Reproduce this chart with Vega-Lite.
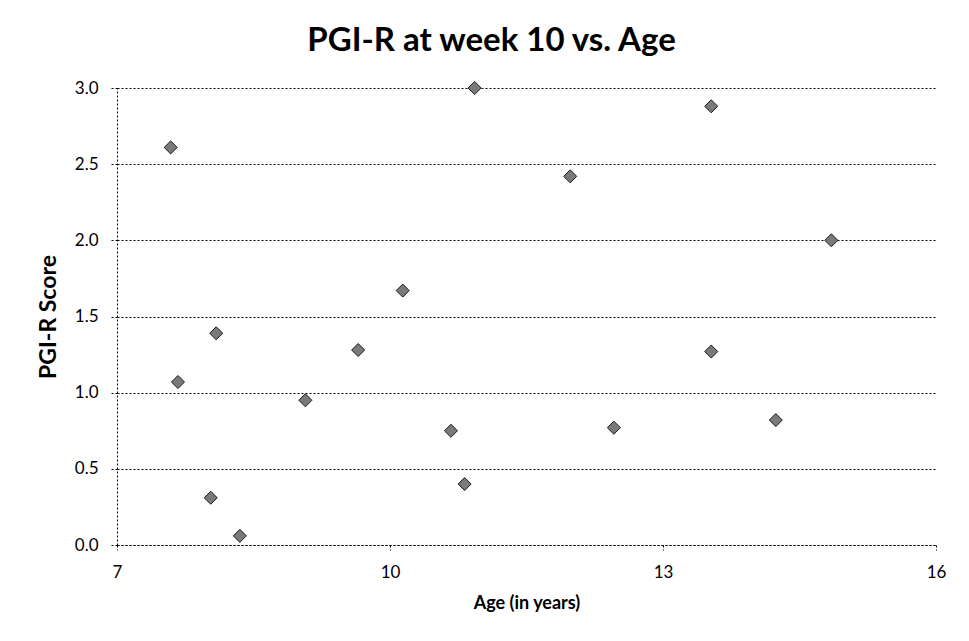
{
  "$schema": "https://vega.github.io/schema/vega-lite/v6.json",
  "autosize": {"type": "none"},
  "width": 819,
  "height": 457,
  "padding": {"left": 117, "top": 88, "right": 33, "bottom": 96},
  "background": "white",
  "title": {
    "text": "PGI-R at week 10 vs. Age",
    "font": "Lato",
    "fontSize": 33,
    "fontWeight": "bold",
    "color": "#000000",
    "anchor": "middle",
    "frame": "bounds",
    "baseline": "alphabetic",
    "offset": -5
  },
  "config": {
    "view": {"stroke": null},
    "axis": {
      "labelFont": "Lato",
      "titleFont": "Lato",
      "labelColor": "#000000",
      "titleColor": "#000000",
      "domainColor": "#000000",
      "domainDash": [2, 2],
      "tickColor": "#000000",
      "tickDash": [2, 2],
      "gridColor": "#000000",
      "gridDash": [2, 2],
      "gridWidth": 1,
      "gridOpacity": 1
    }
  },
  "data": {
    "values": [
      {"age": 7.59, "score": 2.61},
      {"age": 7.67, "score": 1.07},
      {"age": 8.09, "score": 1.39},
      {"age": 8.03, "score": 0.31},
      {"age": 8.35, "score": 0.06},
      {"age": 9.07, "score": 0.95},
      {"age": 9.65, "score": 1.28},
      {"age": 10.14, "score": 1.67},
      {"age": 10.67, "score": 0.75},
      {"age": 10.82, "score": 0.40},
      {"age": 10.93, "score": 3.0},
      {"age": 11.98, "score": 2.42},
      {"age": 12.46, "score": 0.77},
      {"age": 13.53, "score": 2.88},
      {"age": 13.53, "score": 1.27},
      {"age": 14.24, "score": 0.82},
      {"age": 14.85, "score": 2.0}
    ]
  },
  "mark": {
    "type": "point",
    "shape": "diamond",
    "filled": true,
    "fill": "#7a7a7a",
    "stroke": "#1a1a1a",
    "strokeWidth": 1,
    "size": 170,
    "opacity": 1
  },
  "encoding": {
    "x": {
      "field": "age",
      "type": "quantitative",
      "scale": {"domain": [7, 16], "nice": false, "zero": false},
      "axis": {
        "values": [7, 10, 13, 16],
        "grid": false,
        "title": "Age (in years)",
        "titleFontSize": 18,
        "titleFontWeight": "bold",
        "titlePadding": 14,
        "labelFontSize": 17,
        "labelPadding": 14,
        "tickSize": 5,
        "labelFlush": false
      }
    },
    "y": {
      "field": "score",
      "type": "quantitative",
      "scale": {"domain": [0, 3], "nice": false},
      "axis": {
        "values": [0, 0.5, 1, 1.5, 2, 2.5, 3],
        "format": ".1f",
        "grid": true,
        "title": "PGI-R Score",
        "titleFontSize": 23,
        "titleFontWeight": "bold",
        "titlePadding": 14,
        "labelFontSize": 17,
        "labelPadding": 12,
        "tickSize": 7,
        "labelFlush": false
      }
    }
  }
}
